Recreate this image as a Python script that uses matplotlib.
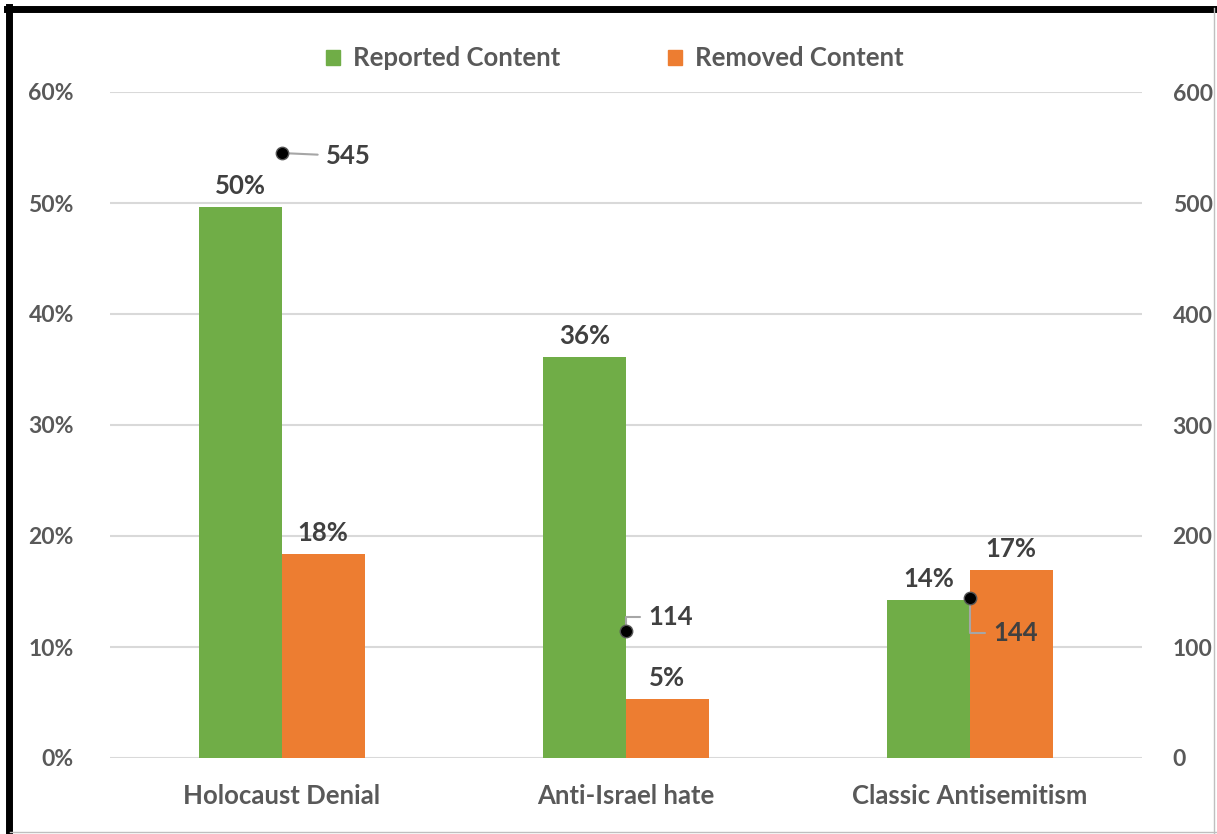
import numpy as np
import matplotlib.pyplot as plt
from matplotlib.lines import Line2D
from matplotlib.patches import Patch

plt.rcParams['font.family'] = ['Lato', 'DejaVu Sans']
plt.rcParams['font.weight'] = 'bold'

categories = ['Holocaust Denial', 'Anti-Israel hate', 'Classic Antisemitism']
reported = [0.496, 0.361, 0.142]
removed = [0.184, 0.053, 0.169]
counts = [545, 114, 144]
series_names = ['Reported Content', 'Removed Content']

green = '#70AD47'
orange = '#ED7D31'
grid_c = '#D9D9D9'
tick_c = '#595959'
label_c = '#404040'
fs = 18.5
tick_fs = 16.5

fig = plt.figure(figsize=(12.17, 8.34), dpi=100)
ax = fig.add_axes([110 / 1217, 76 / 834, 1032 / 1217, 666 / 834])

x = np.arange(len(categories))
w = 0.24
b1 = ax.bar(x - w / 2, reported, w, color=green, zorder=3)
b2 = ax.bar(x + w / 2, removed, w, color=orange, zorder=3)

for bars, vals in ((b1, reported), (b2, removed)):
    for rect, v in zip(bars, vals):
        ax.annotate(f'{v * 100:.0f}%', (rect.get_x() + rect.get_width() / 2, v),
                    xytext=(0, 9), textcoords='offset pixels', ha='center',
                    va='bottom', fontsize=fs, color=label_c, fontweight='bold')

ax.set_xlim(-0.5, 2.5)
ax.set_ylim(0, 0.6)
ax.set_yticks(np.arange(0, 0.61, 0.1))
ax.set_yticklabels([f'{int(round(t * 100))}%' for t in np.arange(0, 0.61, 0.1)])
ax.set_xticks(x)
ax.set_xticklabels(categories, fontsize=fs)
ax.yaxis.grid(True, color=grid_c, lw=1.5, zorder=0)
ax.tick_params(axis='both', length=0, labelcolor=tick_c)
ax.tick_params(axis='y', pad=26, labelsize=tick_fs)
ax.tick_params(axis='x', pad=19)
for s in ax.spines.values():
    s.set_visible(False)

# counts go on the secondary axis
ax2 = ax.twinx()
ax2.set_ylim(0, 600)
ax2.set_yticks(np.arange(0, 601, 100))
ax2.tick_params(axis='y', length=0, labelsize=tick_fs, labelcolor=tick_c, pad=22)
for s in ax2.spines.values():
    s.set_visible(False)

ax2.scatter(x, counts, s=80, color='black', edgecolors='#555555', linewidths=1,
            zorder=5)
offsets = [(44, -3), (22, 14), (23, -35)]
conns = ['arc3', 'angle,angleA=0,angleB=90,rad=0', 'angle,angleA=0,angleB=90,rad=0']
for xi, c, off, cs in zip(x, counts, offsets, conns):
    ax2.annotate(str(c), (xi, c), xytext=off, textcoords='offset pixels',
                 ha='left', va='center', fontsize=fs, color=label_c,
                 fontweight='bold',
                 arrowprops=dict(arrowstyle='-', color='#A6A6A6', lw=1.5,
                                 connectionstyle=cs, shrinkA=4, shrinkB=4))

handles = [Patch(color=green), Patch(color=orange)]
fig.legend(handles, series_names, loc='center', bbox_to_anchor=(0.505, 0.93),
           ncol=2, frameon=False, fontsize=fs, handlelength=0.55,
           handleheight=0.55, handletextpad=0.5, columnspacing=4.2,
           labelcolor=tick_c)

# frame round the figure
fig.add_artist(Line2D([0.0075, 0.0075], [0, 0.9915], color='black', lw=5,
                      transform=fig.transFigure))
fig.add_artist(Line2D([0.0055, 1], [0.9895, 0.9895], color='black', lw=5,
                      transform=fig.transFigure))
fig.add_artist(Line2D([0.9972, 0.9972], [0, 0.99], color='#BFBFBF', lw=1,
                      transform=fig.transFigure))
fig.add_artist(Line2D([0.008, 1], [0.0025, 0.0025], color='#BFBFBF', lw=1,
                      transform=fig.transFigure))

fig.savefig('out.png', dpi=100)
